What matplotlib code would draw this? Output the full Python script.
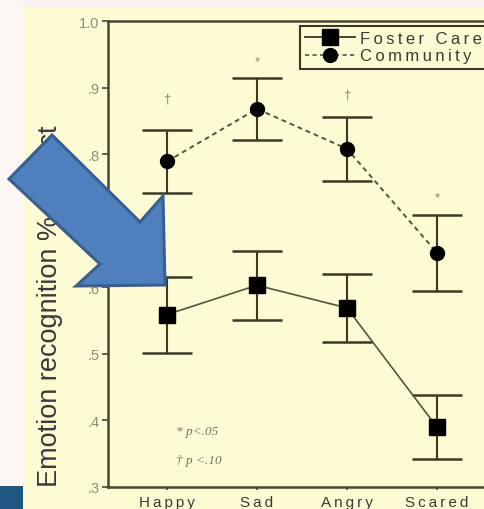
import numpy as np
import matplotlib
matplotlib.use("Agg")
import matplotlib.pyplot as plt
from matplotlib.patches import Rectangle, Polygon
from matplotlib.lines import Line2D

# CHART DATA
emotions = ["Happy", "Sad", "Angry", "Scared"]
foster_mean = [0.559, 0.603, 0.569, 0.390]
foster_err = [0.057, 0.052, 0.051, 0.048]
community_mean = [0.789, 0.868, 0.808, 0.652]
community_err = [0.048, 0.047, 0.048, 0.057]
sig_labels = ["\u2020", "*", "\u2020", "*"]
sig_y = [0.883, 0.940, 0.890, 0.735]
y_ticks = [0.3, 0.4, 0.5, 0.6, 0.7, 0.8, 0.9, 1.0]
y_tick_labels = [".3", ".4", ".5", ".6", ".7", ".8", ".9", "1.0"]

FONT = ["Liberation Sans", "DejaVu Sans"]
CREAM = "#fdfbd4"
AXIS_COL = "#4a4630"
LINE_COL = "#55533c"
W, H = 485, 510


def spaced(s):
    # FAKE LETTER SPACING WITH THIN SPACES
    return "\u2009".join(s)


def px(x, y):
    # PIXEL (FROM TOP LEFT) TO FIGURE FRACTION
    return (x / W, 1 - y / H)


fig = plt.figure(figsize=(W / 100, H / 100), dpi=100)
fig.patch.set_facecolor("#fcf2f2")

# SLIDE BACKGROUND PIECES
fig.patches.append(Rectangle(px(0, H), 23 / W, 1, transform=fig.transFigure,
                             facecolor="#fcf6f5", edgecolor="none", zorder=-3))
fig.patches.append(Rectangle(px(23, H), 1, (H - 9) / H,
                             transform=fig.transFigure,
                             facecolor=CREAM, edgecolor="none", zorder=-2))
fig.patches.append(Rectangle(px(0, H), 23 / W, 23 / H,
                             transform=fig.transFigure,
                             facecolor="#1f5783", edgecolor="none", zorder=-2))

# AXES EXTENDS PAST RIGHT EDGE LIKE THE CROPPED ORIGINAL
ax = fig.add_axes([108 / W, 22 / H, 387 / W, 466 / H])
ax.set_facecolor(CREAM)
x = np.arange(1, len(emotions) + 1)

ax.errorbar(x, foster_mean, yerr=foster_err, color=LINE_COL, lw=1.2,
            ecolor="#3c3a22", elinewidth=1.5, capsize=18, capthick=1.8,
            marker="s", ms=11, mfc="black", mec="black")
ax.errorbar(x, community_mean, yerr=community_err, color=LINE_COL, lw=1.4,
            ls=(0, (2.5, 2)), ecolor="#3c3a22", elinewidth=1.5, capsize=18,
            capthick=1.8, marker="o", ms=10, mfc="black", mec="black")

for xi, lab, yi in zip(x, sig_labels, sig_y):
    ax.text(xi, yi, lab, ha="center", va="center", fontsize=9.5,
            color="#858170", family=FONT)

ax.text(1.1, 0.384, "* p<.05", fontsize=9.5, style="italic",
        family="Liberation Serif", color="#77745f", va="center")
ax.text(1.1, 0.341, "\u2020 p <.10", fontsize=9.5, style="italic",
        family="Liberation Serif", color="#77745f", va="center")

ax.set_xlim(0.345, 4.645)
ax.set_ylim(0.3, 1.0)
ax.set_xticks(x)
ax.set_xticklabels([spaced(e) for e in emotions], family=FONT, fontsize=11,
                   color="#3a3a34")
ax.set_yticks(y_ticks)
ax.set_yticklabels(y_tick_labels, family=FONT, fontsize=10.5,
                   color="#8e8c7c")
ax.tick_params(axis="y", direction="out", length=4, width=1.2,
               color=AXIS_COL, pad=2)
ax.tick_params(axis="x", direction="out", length=2, width=1.2,
               color=AXIS_COL, pad=4)
for side in ["left", "top", "bottom"]:
    ax.spines[side].set_color(AXIS_COL)
    ax.spines[side].set_linewidth(1.8)
ax.spines["right"].set_visible(False)

# LEGEND WITHOUT ERROR BARS
handles = [Line2D([], [], color="#3a3826", lw=1.3, marker="s", ms=11,
                  mfc="black", mec="black"),
           Line2D([], [], color="#55533c", lw=1.2, ls=(0, (2.5, 2)),
                  marker="o", ms=10, mfc="black", mec="black")]
leg = ax.legend(handles, [spaced("Foster Care"), spaced("Community")],
                loc="upper left", bbox_to_anchor=px(300, 27),
                bbox_transform=fig.transFigure,
                prop={"family": FONT, "size": 12}, handlelength=3.0,
                handletextpad=0.3, borderpad=0.3, labelspacing=0.15,
                fancybox=False, framealpha=1, borderaxespad=0)
leg.get_frame().set_edgecolor("#3a3826")
leg.get_frame().set_linewidth(1.5)
leg.get_frame().set_facecolor(CREAM)
for t in leg.get_texts():
    t.set_color("#3a3a34")

fig.text(50 / W, 1 - 306 / H, "Emotion recognition % correct",
         rotation=90, ha="center", va="center", fontsize=19.5,
         family=FONT, color="#3a3a3a")

# BLUE CALL-OUT ARROW OVER THE CHART
arrow_px = [(9, 180), (52, 136), (140, 223), (163, 197), (165, 286),
            (76, 287), (100, 265)]
fig.patches.append(Polygon([px(a, b) for a, b in arrow_px], closed=True,
                           transform=fig.transFigure, facecolor="#4f7fbd",
                           edgecolor="#385f90", lw=2.2, zorder=5))

fig.savefig("out.png", dpi=100, facecolor=fig.get_facecolor())
